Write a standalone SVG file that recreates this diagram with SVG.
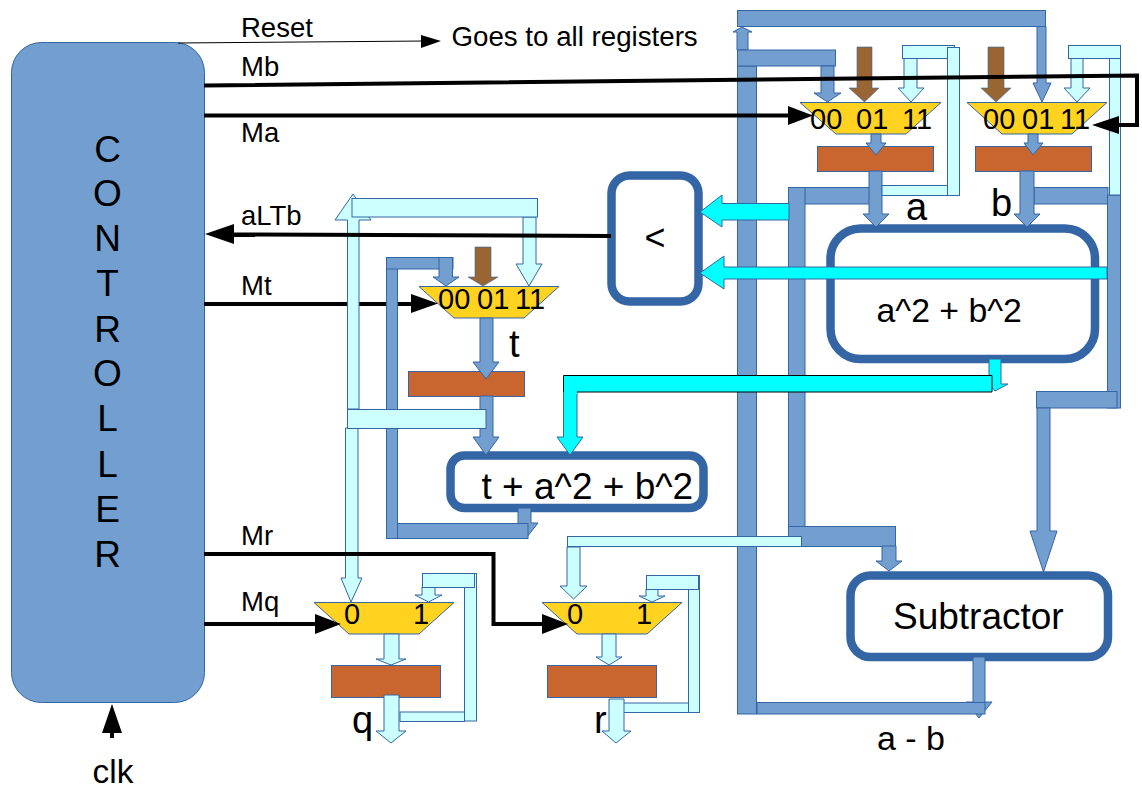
<svg xmlns="http://www.w3.org/2000/svg" width="1142" height="793" viewBox="0 0 1142 793">
<style>
text{font-family:"Liberation Sans",Arial,sans-serif;fill:#000}
.lab{font-size:27.500px}
.mx{font-size:29px}
.big{font-size:38px}
.ctl{font-size:37px;text-anchor:middle}
.b{fill:#729fcf;stroke:#3465a4;stroke-width:1}
.l{fill:#ccffff;stroke:#3465a4;stroke-width:1}
.br{fill:#996633;stroke:#3465a4;stroke-width:.6}
.c{fill:#00ffff;stroke:#3465a4;stroke-width:1}
.cb{fill:#00ffff;stroke:#000;stroke-width:1}
.mux{fill:#ffd320;stroke:#3465a4;stroke-width:1}
.reg{fill:#c9652f;stroke:#3465a4;stroke-width:1}
.box{fill:#fff;stroke:#3465a4;stroke-width:8.500}
.s{fill:none;stroke:#000;stroke-width:4}
.h{fill:#000}
</style>
<rect width="1142" height="793" fill="#fff"/>
<g id="controller">
<rect x="11.500" y="42.500" width="193" height="660" rx="30" fill="#729fcf" stroke="#3465a4"/>
<text class="ctl" x="107.500" y="162">C</text>
<text class="ctl" x="107.500" y="206">O</text>
<text class="ctl" x="107.500" y="251">N</text>
<text class="ctl" x="107.500" y="296">T</text>
<text class="ctl" x="107.500" y="342">R</text>
<text class="ctl" x="107.500" y="386">O</text>
<text class="ctl" x="107.500" y="431">L</text>
<text class="ctl" x="107.500" y="477">L</text>
<text class="ctl" x="107.500" y="522">E</text>
<text class="ctl" x="107.500" y="567">R</text>
</g>
<g id="comparator"><rect class="box" x="611.500" y="175.500" width="87" height="126" rx="18"/><text x="655" y="250" font-size="36" text-anchor="middle">&lt;</text></g>
<g id="squares"><rect class="box" x="830.500" y="228.500" width="264.500" height="130.500" rx="30"/></g>
<g id="adder"><rect class="box" x="450.500" y="455.500" width="253" height="52.500" rx="14"/><text x="481.500" y="499" font-size="37">t + a^2 + b^2</text></g>
<g id="subtractor"><rect class="box" x="850.500" y="575.500" width="257.500" height="81.500" rx="20"/><text x="893" y="629" font-size="37">Subtractor</text></g>
<g id="reg-a"><rect class="reg" x="817.500" y="146.500" width="116" height="25"/></g>
<g id="reg-b"><rect class="reg" x="975.500" y="146.500" width="116" height="25"/></g>
<g id="reg-t"><rect class="reg" x="408.500" y="371.500" width="116" height="25"/></g>
<g id="reg-q"><rect class="reg" x="331.500" y="665.500" width="109" height="32"/></g>
<g id="reg-r"><rect class="reg" x="547.500" y="665.500" width="109" height="32"/></g>
<g id="mux-a"><path class="mux" d="M800 102.500H941L906 134H836Z"/></g>
<g id="mux-b"><path class="mux" d="M967 102.500H1107L1072 134H1002Z"/></g>
<g id="mux-t"><path class="mux" d="M419 286.500H559L524 318H454Z"/></g>
<g id="mux-q"><path class="mux" d="M314 602.500H454L419 634H349Z"/></g>
<g id="mux-r"><path class="mux" d="M542 602.500H682L647 634H577Z"/></g>
<g id="connectors">
<path class="s" d="M204 304H415"/>
<g>
<rect class="b" x="737.500" y="66" width="19" height="648"/>
<path class="b" d="M737 50V32H733L742 27L752 32H748V50Z"/>
<rect class="b" x="737.500" y="10.500" width="308" height="16"/>
<rect class="b" x="737.500" y="50" width="98" height="16"/>
<path class="b" d="M821 66H834V93H841L827.500 102L814 93H821Z"/>
<path class="b" d="M1037 26.500H1046V83H1051L1042 102L1033 83H1037Z"/>
<path class="b" d="M871 134H881V143H886L876 155L866 143H871Z"/>
<path class="b" d="M1028 134H1038V143H1043L1033 155L1024 143H1028Z"/>
<rect class="b" x="788.500" y="187.500" width="81" height="16.500"/>
<rect class="b" x="788.500" y="187.500" width="16.500" height="339"/>
<rect class="b" x="1034" y="187.500" width="74" height="16.500"/>
<path class="b" d="M869 171H882V214H889L876 227L863 214H869Z"/>
<path class="b" d="M1020 171H1034V214H1040L1027 227L1014 214H1020Z"/>
<rect class="b" x="1107.500" y="195" width="13" height="213"/>
<rect class="b" x="1036.500" y="391.500" width="80.500" height="16.500"/>
<path class="b" d="M1037 408H1050V531H1057L1043.500 572L1030 531H1037Z"/>
<rect class="b" x="788.500" y="526.500" width="107" height="20"/>
<path class="b" d="M882 546H896V561H902L889 571L876 561H882Z"/>
<path class="b" d="M973 657H985V702H992L979 718L966 702H973Z"/>
<rect class="b" x="757" y="702.500" width="228" height="11.500"/>
<rect class="b" x="386.500" y="257.500" width="11" height="281"/>
<rect class="b" x="386.500" y="257.500" width="66.500" height="11.500"/>
<path class="b" d="M439 257.500H452.500V277H459L446 286L433 277H439Z"/>
<path class="b" d="M480 318H493V362H499L486 379L473 362H480Z"/>
<path class="b" d="M480 396H493V437H499L486 455L473 437H480Z"/>
<path class="b" d="M518 508H531V523H538L527 537L518 530Z"/>
<rect class="b" x="397.500" y="523.500" width="130.500" height="15"/>
</g>
<g>
<path class="br" d="M857 47H872V88H879L864.500 102L849 88H857Z"/>
<path class="br" d="M988 47H1004V88H1011L996 102L981 88H988Z"/>
<path class="br" d="M475 247H491V277H498L483 286L468 277H475Z"/>
</g>
<g>
<path class="l" d="M904 58H917V88H924L911 102L898 88H904Z"/>
<rect class="l" x="902.500" y="45.500" width="52" height="13"/>
<rect class="l" x="947.500" y="47.500" width="12" height="148"/>
<rect class="l" x="882" y="185.500" width="65.500" height="10"/>
<path class="l" d="M1071 58H1083V88H1090L1077 102L1064 88H1071Z"/>
<rect class="l" x="1109.500" y="58" width="11" height="137"/>
<rect class="l" x="1068.500" y="45.500" width="52" height="13"/>
<path class="l" d="M347.500 409V220H335L353 194L371 220H359V409Z"/>
<path class="l" d="M523 217H536V264H542L529 286L516 264H523Z"/>
<rect class="l" x="352" y="198.500" width="185.500" height="18.500"/>
<path class="l" d="M345.500 428H358V578H362L351 602L341 578H345.500Z"/>
<rect class="l" x="347.500" y="409.500" width="138.500" height="19"/>
<path class="l" d="M567 547H580V586H587L573.500 599L560 586H567Z"/>
<rect class="l" x="567.500" y="536.500" width="234" height="10"/>
<path class="l" d="M422 587H435V595H442L428.500 602L415 595H422Z"/>
<rect class="l" x="464.500" y="573.500" width="12" height="147.500"/>
<rect class="l" x="422.500" y="573.500" width="52" height="14"/>
<rect class="l" x="400" y="712" width="64.500" height="9.500"/>
<path class="l" d="M384 634H399V659H406L391 665L376 659H384Z"/>
<path class="l" d="M384 695H399V731H406L391 743L376 731H384Z"/>
<path class="l" d="M646 589H658V596H665L652 602L639 596H646Z"/>
<rect class="l" x="688.500" y="575.500" width="11" height="137"/>
<rect class="l" x="646.500" y="575.500" width="52" height="14"/>
<rect class="l" x="623" y="703" width="65.500" height="9.500"/>
<path class="l" d="M602 634H616V657H622L609 665L596 657H602Z"/>
<path class="l" d="M609 699H624V731H631L616 743L602 731H609Z"/>
</g>
<g>
<path class="c" d="M789 203.500V220H722V227L700 212L722 195V203.500Z"/>
<path class="c" d="M1107 267V279H724V289L700 273L724 256V267Z"/>
<path class="c" d="M989 359H1001V384H1008L995 391L989 384Z"/>
<path class="c" d="M563.500 392H577V437H583L570 455L557 437H563.500Z"/>
<path class="cb" d="M577 392H992V375.500H563.500V392"/>
<rect x="564" y="376" width="13" height="18" fill="#00ffff"/>
</g>
<g>
<path d="M178 43L425 41" fill="none" stroke="#000" stroke-width="1"/>
<path class="h" d="M421 35L441 41L421 48Z"/>
<path class="s" d="M204 85.500L1137 75.500V125H1115"/>
<path class="h" d="M1119 116V134L1092 125Z"/>
<path class="s" d="M204 115.500H792"/>
<path class="h" d="M788 106L813 115.500L788 125Z"/>
<path class="s" d="M611 236L230 234.500"/>
<path class="h" d="M234 224V244L205 234Z"/>
<path class="h" d="M411 294L438 303.500L411 313Z"/>
<path class="s" d="M204 554H493.500V624H545"/>
<path class="h" d="M542 614L568 624L542 634Z"/>
<path class="s" d="M204 624H318"/>
<path class="h" d="M315 614L341 624L315 634Z"/>
<path class="h" d="M112 704L122 733H114V738H110V733H102Z"/>
</g>
</g>
<g id="labels">
<text class="lab" x="241" y="37">Reset</text>
<text class="lab" x="241" y="76">Mb</text>
<text class="lab" x="241" y="142">Ma</text>
<text class="lab" x="241" y="225">aLTb</text>
<text class="lab" x="241" y="295">Mt</text>
<text class="lab" x="241" y="545">Mr</text>
<text class="lab" x="241" y="611">Mq</text>
<text x="451.500" y="46" font-size="27.700">Goes to all registers</text>
<text x="92.500" y="783" font-size="33.500">clk</text>
<text class="mx" x="810" y="129">00</text><text class="mx" x="856" y="129">01</text><text class="mx" x="902" y="129">11</text>
<text class="mx" x="983" y="129">00</text><text class="mx" x="1022" y="129">01</text><text class="mx" x="1060" y="129">11</text>
<text class="mx" x="438" y="309">00</text><text class="mx" x="477" y="309">01</text><text class="mx" x="515" y="309">11</text>
<text class="mx" x="344" y="624">0</text><text class="mx" x="413" y="624">1</text>
<text class="mx" x="567" y="624">0</text><text class="mx" x="636" y="624">1</text>
<text class="big" x="906" y="220">a</text>
<text class="big" x="991" y="216">b</text>
<text class="big" x="509" y="357">t</text>
<text class="big" x="352" y="733">q</text>
<text class="big" x="594" y="733">r</text>
<text x="877" y="750" font-size="34">a - b</text>
<text x="876.500" y="322" font-size="33.800">a^2 + b^2</text>
</g>
</svg>
